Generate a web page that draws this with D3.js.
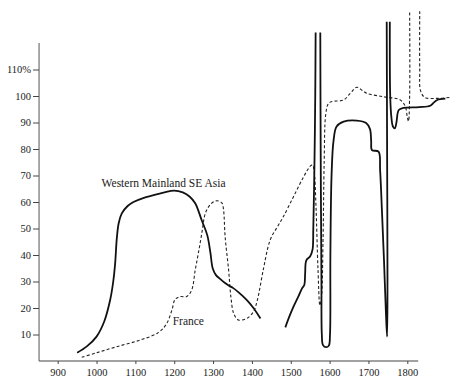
<!DOCTYPE html>
<html>
<head>
<meta charset="utf-8">
<script src="https://cdn.jsdelivr.net/npm/d3@7"></script>
<style>
  body { margin: 0; background: #fff; }
  text { font-family: "Liberation Serif", "DejaVu Serif", serif; fill: #1a1a1a; }
</style>
</head>
<body>
<div id="chart"></div>
<script>
const width = 460;
const height = 388;

// tick values
const xTicks = [900, 1000, 1100, 1200, 1300, 1400, 1500, 1600, 1700, 1800];
const yTicks = [10, 20, 30, 40, 50, 60, 70, 80, 90, 100, 110];

// Western Mainland SE Asia (solid), null = break in the line
const seAsia = [
  [950, 3.1], [975, 5.5], [1000, 9.2], [1020, 15], [1035, 23], [1043, 30], [1048, 37],
  [1052, 46], [1057, 52], [1065, 55.7], [1080, 58.5], [1095, 60], [1120, 61.5],
  [1145, 62.5], [1172, 63.5], [1200, 64.3], [1222, 63.6], [1240, 62], [1254, 59.5],
  [1271, 53], [1285, 47.5], [1293, 41], [1299, 35], [1307, 32.5], [1318, 31],
  [1330, 29.5], [1340, 28.5], [1352, 27.5], [1365, 26], [1387, 23], [1404, 20], [1422, 16],
  [1450, null],
  [1486, 12.7], [1497, 17], [1507, 20.5], [1520, 24.5], [1529, 27.4], [1535, 28.8],
  [1537, 33], [1540, 38], [1550, 39.5], [1556, 42], [1558, 50], [1561, 74.6], [1563, 100], [1564, 124],
  [1570, null],
  [1576, 124], [1577, 80], [1579, 30], [1580, 10], [1583, 6], [1591, 5.2], [1598, 5.8],
  [1601, 10], [1602, 40], [1605, 70], [1610, 83], [1618, 88.5], [1636, 90.3], [1670, 90.7],
  [1694, 89.8], [1704, 87.5], [1707, 83], [1709, 79.6], [1726, 79], [1730, 72],
  [1735, 55.7], [1740, 38], [1745, 18], [1748, 9.2], [1749, 30], [1748, 80], [1747, 128],
  [1751, null],
  [1755, 128], [1756, 100], [1759, 92], [1763, 88.5], [1768, 87.8], [1772, 90], [1778, 94.7],
  [1790, 95.5], [1830, 95.8], [1859, 96.3], [1868, 97.5], [1877, 98.5], [1898, 99]
];

// France (dashed)
const france = [
  [962, 1.4], [1000, 3.1], [1052, 5.4], [1112, 7.9], [1159, 10.7], [1180, 14],
  [1194, 19.2], [1202, 23.2], [1215, 24.3], [1232, 24.3], [1245, 26.8], [1254, 34.3],
  [1262, 40.6], [1271, 48.2], [1280, 55.7], [1292, 58.9], [1304, 60.3], [1314, 60.4],
  [1323, 59.6], [1327, 57], [1331, 46.9], [1340, 34.3], [1346, 24], [1353, 18],
  [1365, 15.5], [1387, 16.1], [1404, 18.6], [1414, 23], [1430, 35], [1447, 45.7],
  [1465, 50.5], [1481, 54.5], [1507, 62], [1533, 69.5], [1550, 73.5], [1556, 74],
  [1560, 72], [1565, 58], [1570, 35], [1575, 21], [1579, 24], [1583, 45], [1586, 75],
  [1590, 93], [1597, 97.2], [1606, 97.9], [1636, 98.5], [1653, 101], [1670, 103.3],
  [1685, 102], [1696, 101], [1739, 99.7], [1782, 98.5], [1795, 96], [1800, 92],
  [1803, 90.5], [1806, 100], [1806, 132],
  [1820, null],
  [1832, 132], [1832, 110], [1834, 102], [1845, 99.5], [1877, 99.1], [1911, 99.5]
];

const labels = [
  {text: "Western Mainland SE Asia", x: 1013, y: 65.7},
  {text: "France", x: 1196, y: 13.6}
];

const x = d3.scaleLinear().domain([900, 1800]).range([57.7, 407.3]);
const y = d3.scaleLinear().domain([0, 110]).range([361, 69.5]);

const svg = d3.select("#chart").append("svg")
  .attr("width", width)
  .attr("height", height);

// x axis
const xAxis = svg.append("g")
  .attr("transform", `translate(0,${y(0)})`)
  .call(d3.axisBottom(x).tickValues(xTicks).tickSize(3).tickPadding(5)
    .tickFormat(d3.format("d")))
  .call(g => g.select(".domain").remove());
xAxis.append("line")
  .attr("x1", x(852)).attr("x2", x(1828))
  .attr("stroke", "#444").attr("stroke-width", 1);
xAxis.selectAll(".tick line").attr("stroke", "#444");
xAxis.selectAll("text").style("font-size", "10.5px").attr("fill", "#1a1a1a");

// y axis
const yAxis = svg.append("g")
  .attr("transform", `translate(${x(852)},0)`)
  .call(d3.axisLeft(y).tickValues(yTicks).tickSize(6).tickPadding(2)
    .tickFormat(d => d === 110 ? "110%" : d))
  .call(g => g.select(".domain").remove());
yAxis.append("line")
  .attr("y1", y(120)).attr("y2", y(0))
  .attr("stroke", "#555").attr("stroke-width", 1);
yAxis.selectAll(".tick line").attr("stroke", "#444");
yAxis.selectAll("text").style("font-size", "10.5px").attr("fill", "#1a1a1a");

const line = d3.line()
  .defined(d => d[1] != null)
  .x(d => x(d[0]))
  .y(d => y(d[1]))
  .curve(d3.curveCatmullRom.alpha(0.5));

svg.append("path")
  .datum(france)
  .attr("fill", "none")
  .attr("stroke", "#222")
  .attr("stroke-width", 1.1)
  .attr("stroke-dasharray", "3,2.2")
  .attr("d", line);

svg.append("path")
  .datum(seAsia)
  .attr("fill", "none")
  .attr("stroke", "#111")
  .attr("stroke-width", 1.8)
  .attr("stroke-linejoin", "round")
  .attr("d", line);

svg.selectAll(".label")
  .data(labels)
  .enter().append("text")
  .attr("class", "label")
  .attr("x", d => x(d.x))
  .attr("y", d => y(d.y))
  .style("font-size", "11.5px")
  .text(d => d.text);
</script>
</body>
</html>
